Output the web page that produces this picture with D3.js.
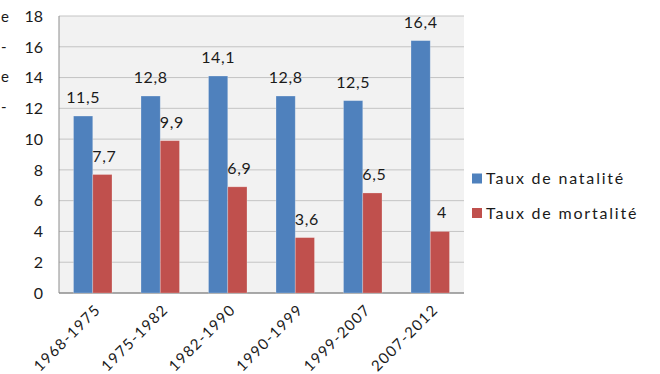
<!DOCTYPE html>
<html><head><meta charset="utf-8">
<script src="https://cdn.jsdelivr.net/npm/d3@7"></script>
<style>body{margin:0;background:#fff}svg{display:block}text{font-family:"Lato","Noto Sans",sans-serif;fill:#1a1a1a}</style>
</head><body><svg id="c" width="660" height="374"></svg>
<script>
const categories = ["1968-1975","1975-1982","1982-1990","1990-1999","1999-2007","2007-2012"];
const natalite = [11.5,12.8,14.1,12.8,12.5,16.4];
const mortalite = [7.7,9.9,6.9,3.6,6.5,4];
const seriesNames = ["Taux de natalité","Taux de mortalité"];
const colors = ["#4f81bd","#c0504d"];
const yTicks = [0,2,4,6,8,10,12,14,16,18];
const edgeChars = ["e","-","e","-"];

const svg = d3.select("#c");
const L=59,R=464,T=16,B=293;
const x = d3.scaleBand().domain(categories).range([L,R]).paddingInner(0.43).paddingOuter(0.215);
const xs = d3.scaleBand().domain([0,1]).range([0,x.bandwidth()]);
const y = d3.scaleLinear().domain([0,18]).range([B,T]);

svg.append("rect").attr("x",L).attr("y",T).attr("width",R-L).attr("height",B-T).attr("fill","#f2f2f2");
svg.selectAll(".g").data(yTicks.filter(d=>d>0)).join("line")
  .attr("x1",L).attr("x2",R).attr("y1",d=>y(d)).attr("y2",d=>y(d)).attr("stroke","#c4c4c4").attr("stroke-width",1);
svg.append("line").attr("x1",L).attr("x2",L).attr("y1",T).attr("y2",B).attr("stroke","#8c8c8c");
svg.append("line").attr("x1",L).attr("x2",R).attr("y1",B).attr("y2",B).attr("stroke","#8c8c8c").attr("stroke-width",1.5);

svg.selectAll(".yt").data(yTicks).join("text")
  .attr("x",43).attr("y",d=>y(d)).attr("dy","0.36em").attr("text-anchor","end").attr("font-size",16).text(d=>d);

const series=[natalite,mortalite];
series.forEach((vals,si)=>{
  svg.append("g").selectAll("rect").data(vals).join("rect")
    .attr("x",(d,i)=>x(categories[i])+xs(si)).attr("width",xs.bandwidth())
    .attr("y",d=>y(d)).attr("height",d=>B-y(d)).attr("fill",colors[si])
    .attr("stroke","rgba(255,255,255,0.3)").attr("stroke-width",0.8);
  svg.append("g").selectAll("text").data(vals).join("text")
    .attr("x",(d,i)=>x(categories[i])+xs(si)+xs.bandwidth()/2+(si?2:0))
    .attr("y",d=>y(d)-13).attr("text-anchor","middle").attr("font-size",16).attr("letter-spacing",0.6)
    .text(d=>String(d).replace(".",","));
});

svg.selectAll(".xt").data(categories).join("text")
  .attr("transform",d=>`translate(${x(d)+x.bandwidth()/2+5},${B+14}) rotate(-45)`)
  .attr("text-anchor","end").attr("dy","0.35em").attr("font-size",15).attr("letter-spacing",1.3).text(d=>d);

seriesNames.forEach((n,i)=>{
  const ly=[178.5,213][i];
  svg.append("rect").attr("x",472).attr("y",ly-5).attr("width",10).attr("height",10).attr("fill",colors[i]);
  svg.append("text").attr("x",486).attr("y",ly).attr("dy","0.36em").attr("font-size",16).attr("letter-spacing",1.8).text(n);
});

svg.selectAll(".ec").data(edgeChars).join("text")
  .attr("x",1).attr("y",(d,i)=>[17,47,77,107][i]).attr("dy","0.35em").attr("text-anchor","start").attr("font-size",15).text(d=>d);
</script></body></html>
